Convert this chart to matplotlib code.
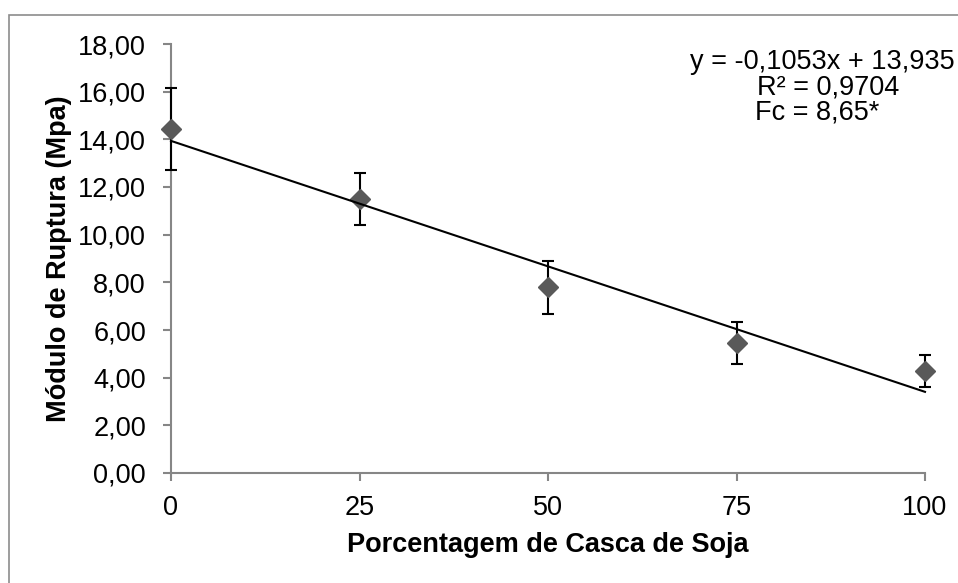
import matplotlib
matplotlib.use("Agg")
import matplotlib.pyplot as plt
from matplotlib.patches import Rectangle
import numpy as np

plt.rcParams['font.family'] = ['Liberation Sans', 'DejaVu Sans']

x_vals = [0, 25, 50, 75, 100]
y_vals = [14.42, 11.48, 7.79, 5.47, 4.27]
y_err = [1.72, 1.09, 1.11, 0.88, 0.67]
slope = -0.1053
intercept = 13.935
x_ticks = [0, 25, 50, 75, 100]
y_ticks = [0, 2, 4, 6, 8, 10, 12, 14, 16, 18]

fig = plt.figure(figsize=(9.58, 5.83), dpi=100)
ax = fig.add_axes([171/958, 1-473/583, (925-171)/958, (473-44)/583])

# outer chart border (right/bottom edges fall outside the image)
fig.patches.append(Rectangle((9/958, -0.1), 2, 1.1 - 15/583, transform=fig.transFigure,
                             fill=False, edgecolor='#8c8c8c', linewidth=1.2))

ax.errorbar(x_vals, y_vals, yerr=y_err, fmt='none', ecolor='black', elinewidth=1.5,
            capsize=4.3, capthick=1.5, zorder=3, clip_on=False)
ax.plot(x_vals, y_vals, linestyle='none', marker='D', markersize=10.5,
        color='#595959', markeredgecolor='#595959', zorder=4, clip_on=False)
xl = np.array([0, 100])
ax.plot(xl, slope * xl + intercept, color='black', linewidth=1.5, zorder=5, clip_on=False)

ax.set_xlim(0, 100)
ax.set_ylim(0, 18)
ax.set_xticks(x_ticks)
ax.set_xticklabels([str(v) for v in x_ticks])
ax.set_yticks(y_ticks)
ax.set_yticklabels([f"{v:.2f}".replace('.', ',') for v in y_ticks])
for s in ['top', 'right']:
    ax.spines[s].set_visible(False)
for s in ['left', 'bottom']:
    ax.spines[s].set_color('#868686')
    ax.spines[s].set_linewidth(1.5)
ax.tick_params(axis='both', colors='#868686', labelcolor='black', labelsize=19.5,
               length=6, width=1.5, direction='out')
ax.tick_params(axis='y', pad=12)
ax.tick_params(axis='x', pad=10)
ax.set_xlabel('Porcentagem de Casca de Soja', fontsize=19.5, fontweight='bold', labelpad=8)
ax.set_ylabel('Módulo de Ruptura (Mpa)', fontsize=19.5, fontweight='bold', labelpad=4)

fig.text(955/958, 1-62/583, 'y = -0,1053x + 13,935', ha='right', va='center', fontsize=19.5)
fig.text(828/958, 1-88/583, 'R² = 0,9704', ha='center', va='center', fontsize=19.5)
fig.text(817/958, 1-113/583, 'Fc = 8,65*', ha='center', va='center', fontsize=19.5)

fig.savefig('out.png', dpi=100)
